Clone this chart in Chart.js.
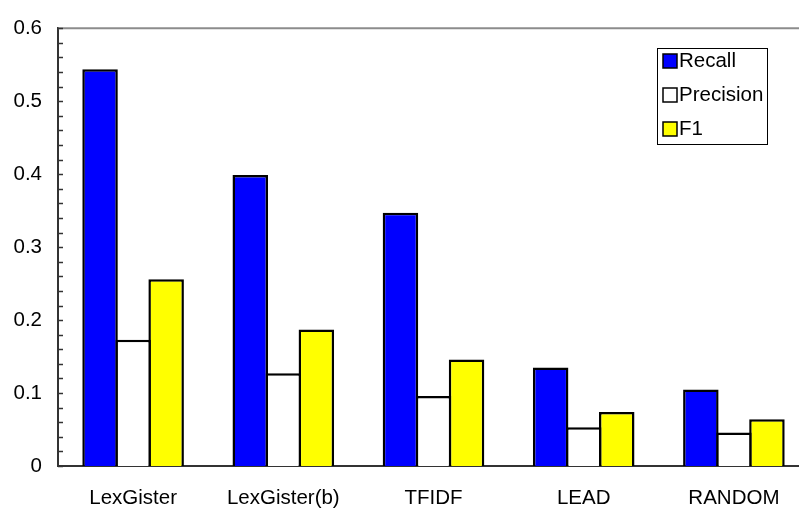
<!DOCTYPE html>
<html>
<head>
<meta charset="utf-8">
<script src="https://cdn.jsdelivr.net/npm/chart.js@4/dist/chart.umd.min.js"></script>
<style>
  html, body { margin: 0; padding: 0; background: #ffffff; overflow: hidden; }
  #wrap { width: 809px; height: 510px; position: relative; }
</style>
</head>
<body>
<div id="wrap"><canvas id="chart"></canvas></div>
<script>
// Summarisation scores per system
const categories = ['LexGister', 'LexGister(b)', 'TFIDF', 'LEAD', 'RANDOM'];
const seriesNames = ['Recall', 'Precision', 'F1'];
const recall    = [0.544, 0.399, 0.347, 0.135, 0.105];
const precision = [0.173, 0.127, 0.096, 0.053, 0.046];
const f1        = [0.256, 0.187, 0.146, 0.074, 0.064];
const yTicks    = [0, 0.1, 0.2, 0.3, 0.4, 0.5, 0.6];

const FONT = '"Liberation Sans", Arial, sans-serif';

// Top frame line, inner minor ticks on the value axis, and the boxed legend
const framePlugin = {
  id: 'frame',
  afterDraw(chart) {
    const { ctx, chartArea: a, scales } = chart;
    ctx.save();
    // top border of the plot
    ctx.strokeStyle = '#8c8c8c';
    ctx.lineWidth = 2;
    ctx.beginPath();
    ctx.moveTo(a.left, a.top);
    ctx.lineTo(a.right, a.top);
    ctx.stroke();

    // tick marks every 0.02 along the value axis, pointing into the plot
    ctx.strokeStyle = '#333333';
    ctx.lineWidth = 1.5;
    const y = scales.y;
    for (let i = 0; i <= 30; i++) {
      const py = Math.round(y.getPixelForValue(i * 0.02)) + 0.5;
      ctx.beginPath();
      ctx.moveTo(a.left, py);
      ctx.lineTo(a.left + 5, py);
      ctx.stroke();
    }

    // legend box
    const bx = 657, by = 48, bw = 110, bh = 96;
    ctx.fillStyle = '#ffffff';
    ctx.fillRect(bx, by, bw, bh);
    ctx.strokeStyle = '#000000';
    ctx.lineWidth = 1;
    ctx.strokeRect(bx + 0.5, by + 0.5, bw, bh);
    ctx.font = '20.5px ' + FONT;
    ctx.textBaseline = 'middle';
    ctx.textAlign = 'left';
    chart.data.datasets.forEach((ds, i) => {
      const cy = by + 12 + i * 34;
      ctx.fillStyle = ds.backgroundColor;
      ctx.fillRect(bx + 6, cy - 6, 14, 14);
      ctx.strokeStyle = '#000000';
      ctx.lineWidth = 1.5;
      ctx.strokeRect(bx + 6, cy - 6, 14, 14);
      ctx.fillStyle = '#000000';
      ctx.fillText(ds.label, bx + 22, cy + 1);
    });
    ctx.restore();
  }
};

new Chart(document.getElementById('chart'), {
  type: 'bar',
  data: {
    labels: categories,
    datasets: [
      { label: seriesNames[0], data: recall,    backgroundColor: '#0000ff' },
      { label: seriesNames[1], data: precision, backgroundColor: '#ffffff' },
      { label: seriesNames[2], data: f1,        backgroundColor: '#ffff00' }
    ].map(d => Object.assign(d, {
      borderColor: '#000000',
      borderWidth: 2.5,
      categoryPercentage: 0.66,
      barPercentage: 1.075
    }))
  },
  options: {
    responsive: true,
    maintainAspectRatio: false,
    animation: false,
    layout: { padding: { top: 18, right: 0, left: 0, bottom: 0 } },
    plugins: {
      legend: { display: false },
      tooltip: { enabled: false }
    },
    scales: {
      x: {
        grid: { display: false, drawTicks: false },
        border: { display: true, color: '#333333', width: 2 },
        ticks: { color: '#000000', padding: 20, maxRotation: 0, font: { family: FONT, size: 20.5 } },
        afterFit(s) { s.height = 44; }
      },
      y: {
        min: 0,
        max: 0.6,
        afterBuildTicks(s) { s.ticks = yTicks.map(v => ({ value: v })); },
        grid: { display: false, drawTicks: false },
        border: { display: true, color: '#333333', width: 2 },
        ticks: {
          color: '#000000',
          padding: 16,
          font: { family: FONT, size: 20.5 },
          callback: v => (v === 0 ? '0' : v.toFixed(1))
        },
        afterFit(s) { s.width = 58; }
      }
    }
  },
  plugins: [framePlugin]
});
</script>
</body>
</html>
